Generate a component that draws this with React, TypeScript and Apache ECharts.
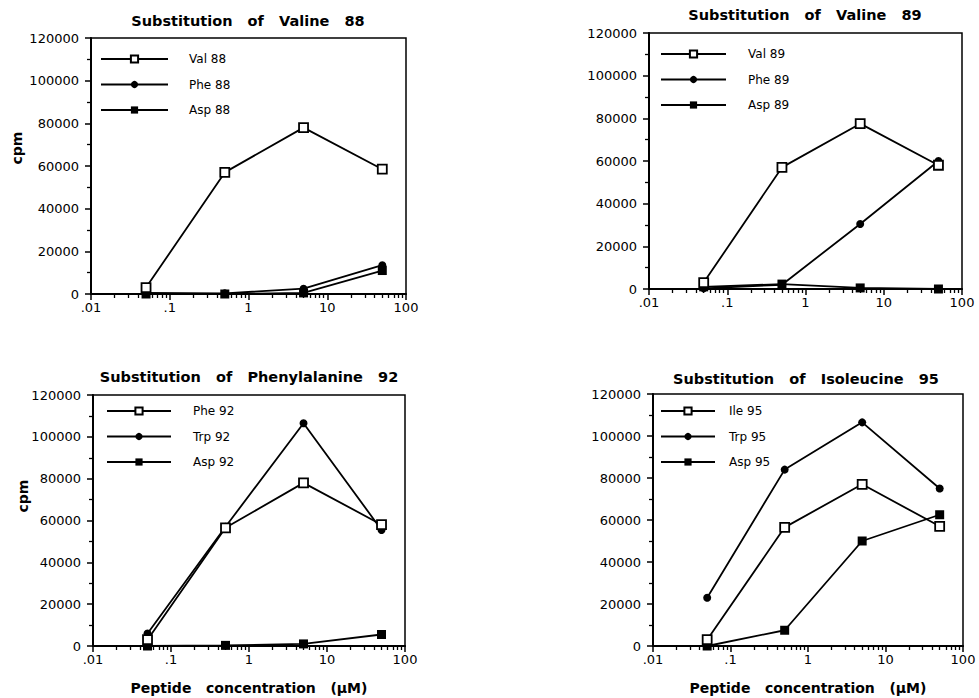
import React, { useEffect, useRef } from "react";
import * as echarts from "echarts";

// ---- data ----
const concentrations = [0.05, 0.5, 5, 50];

const val88 = [3000, 57000, 78000, 58500];
const phe88 = [500, 300, 2500, 13500];
const asp88 = [0, 0, 500, 11000];

const val89 = [3000, 57000, 77500, 58000];
const phe89 = [300, 2000, 30500, 60000];
const asp89 = [1000, 2300, 500, 0];

const phe92 = [3000, 56500, 78000, 58000];
const trp92 = [6000, 57000, 106500, 55500];
const asp92 = [0, 300, 1000, 5500];

const ile95 = [3000, 56500, 77000, 57000];
const trp95 = [23000, 84000, 106500, 75000];
const asp95 = [0, 7500, 50000, 62500];

const titles = [
  "Substitution   of   Valine   88",
  "Substitution   of   Valine   89",
  "Substitution   of   Phenylalanine   92",
  "Substitution   of   Isoleucine   95",
];
const seriesNames = [
  ["Val 88", "Phe 88", "Asp 88"],
  ["Val 89", "Phe 89", "Asp 89"],
  ["Phe 92", "Trp 92", "Asp 92"],
  ["Ile 95", "Trp 95", "Asp 95"],
];
const seriesValues = [
  [val88, phe88, asp88],
  [val89, phe89, asp89],
  [phe92, trp92, asp92],
  [ile95, trp95, asp95],
];
const xTickLabels: Record<string, string> = {
  "0.01": ".01",
  "0.1": ".1",
  "1": "1",
  "10": "10",
  "100": "100",
};
const yAxisName = "cpm";
const xAxisName = "Peptide   concentration   (\u00B5M)";
const minorMultipliers = [2, 3, 4, 5, 6, 7, 8, 9];
const decades = [-2, -1, 0, 1];

// ---- layout ----
const gridLayouts = [
  { left: 91, top: 38, width: 315, height: 256 },
  { left: 649, top: 33, width: 313, height: 256 },
  { left: 93, top: 395, width: 312, height: 251 },
  { left: 653, top: 394, width: 310, height: 252 },
];
const legendLayouts = [
  { left: 100, top: 53, itemWidth: 67, pad: 16 },
  { left: 660, top: 48, itemWidth: 65, pad: 17 },
  { left: 106, top: 405, itemWidth: 64, pad: 17 },
  { left: 660, top: 405, itemWidth: 54, pad: 9 },
];
const titlePos = [
  [248, 21],
  [805, 15],
  [249, 377],
  [806, 379],
];
const cpmPos = [
  [17, 148],
  [23, 496],
];

const FONT = "DejaVu Sans";

export default function App() {
  const ref = useRef<HTMLDivElement>(null);

  useEffect(() => {
    if (!ref.current) return;
    const chart = echarts.init(ref.current, null, { renderer: "svg" });

    const minorTicks: number[] = [];
    decades.forEach((d) =>
      minorMultipliers.forEach((m) => minorTicks.push(Math.log10(m) + d))
    );

    const black = "#000";
    const grids: any[] = [];
    const xAxes: any[] = [];
    const yAxes: any[] = [];
    const series: any[] = [];
    const legends: any[] = [];
    const graphics: any[] = [];

    gridLayouts.forEach((g, i) => {
      grids.push({
        ...g,
        show: true,
        borderColor: black,
        borderWidth: 1.5,
        backgroundColor: "transparent",
      });
      const bottomRow = i >= 2;
      xAxes.push({
        type: "log",
        logBase: 10,
        gridIndex: i,
        min: 0.01,
        max: 100,
        position: "bottom",
        axisLine: { show: true, onZero: false, lineStyle: { color: black, width: 2 } },
        axisTick: { show: true, length: 6, lineStyle: { color: black, width: 1.5 } },
        axisLabel: {
          color: black,
          fontFamily: FONT,
          fontSize: 13,
          margin: 7,
          formatter: (v: number) => {
            const k = String(+v.toPrecision(6));
            return xTickLabels[k] ?? k;
          },
        },
        splitLine: { show: false },
        name: bottomRow ? xAxisName : "",
        nameLocation: "middle",
        nameGap: 35,
        nameTextStyle: {
          color: black,
          fontFamily: FONT,
          fontWeight: "bold",
          fontSize: 14,
        },
      });
      xAxes.push({
        type: "value",
        gridIndex: i,
        min: -2,
        max: 2,
        position: "bottom",
        axisLine: { show: false, onZero: false },
        axisLabel: { show: false },
        splitLine: { show: false },
        axisTick: {
          show: true,
          length: 4,
          customValues: minorTicks,
          lineStyle: { color: black, width: 1.3 },
        },
      });
      yAxes.push({
        type: "value",
        gridIndex: i,
        min: 0,
        max: 120000,
        interval: 20000,
        axisLine: { show: true, onZero: false, lineStyle: { color: black, width: 2 } },
        axisTick: { show: true, length: 6, lineStyle: { color: black, width: 1.5 } },
        minorTick: {
          show: true,
          splitNumber: 2,
          length: 4,
          lineStyle: { color: black, width: 1.3 },
        },
        axisLabel: {
          color: black,
          fontFamily: FONT,
          fontSize: 13,
          margin: 12,
          formatter: (v: number) => String(v),
        },
        splitLine: { show: false },
        minorSplitLine: { show: false },
      });

      seriesNames[i].forEach((name, j) => {
        const base = {
          type: "line",
          name,
          xAxisIndex: i * 2,
          yAxisIndex: i,
          data: concentrations.map((c, k) => [c, seriesValues[i][j][k]]),
          lineStyle: { color: black, width: 1.8 },
          z: 3 - j,
        };
        if (j === 0) {
          series.push({
            ...base,
            symbol: "rect",
            symbolSize: 9,
            itemStyle: { color: "#fff", borderColor: black, borderWidth: 1.8 },
          });
        } else if (j === 1) {
          series.push({
            ...base,
            symbol: "circle",
            symbolSize: 8,
            itemStyle: { color: black, borderColor: black, borderWidth: 0 },
          });
        } else {
          series.push({
            ...base,
            symbol: "rect",
            symbolSize: 9,
            itemStyle: { color: black, borderColor: black, borderWidth: 0 },
          });
        }
      });

      const lg = legendLayouts[i];
      legends.push({
        data: seriesNames[i],
        orient: "vertical",
        left: lg.left,
        top: lg.top,
        padding: 0,
        itemWidth: lg.itemWidth,
        itemHeight: 9,
        itemGap: 13.5,
        selectedMode: false,
        textStyle: {
          color: black,
          fontFamily: FONT,
          fontSize: 12,
          padding: [0, 0, 0, lg.pad],
        },
      });

      graphics.push({
        type: "text",
        x: titlePos[i][0],
        y: titlePos[i][1],
        style: {
          text: titles[i],
          fill: black,
          fontFamily: FONT,
          fontWeight: "bold",
          fontSize: 14.5,
          align: "center",
          verticalAlign: "middle",
        },
      });
    });

    cpmPos.forEach(([x, y]) => {
      graphics.push({
        type: "text",
        x,
        y,
        rotation: Math.PI / 2,
        style: {
          text: yAxisName,
          fill: black,
          fontFamily: FONT,
          fontWeight: "bold",
          fontSize: 14,
          align: "center",
          verticalAlign: "middle",
        },
      });
    });

    chart.setOption({
      animation: false,
      backgroundColor: "#fff",
      grid: grids,
      xAxis: xAxes,
      yAxis: yAxes,
      series,
      legend: legends,
      graphic: graphics,
    });

    return () => chart.dispose();
  }, []);

  return (
    <div
      ref={ref}
      style={{ position: "fixed", left: 0, top: 0, width: 979, height: 698 }}
    />
  );
}
